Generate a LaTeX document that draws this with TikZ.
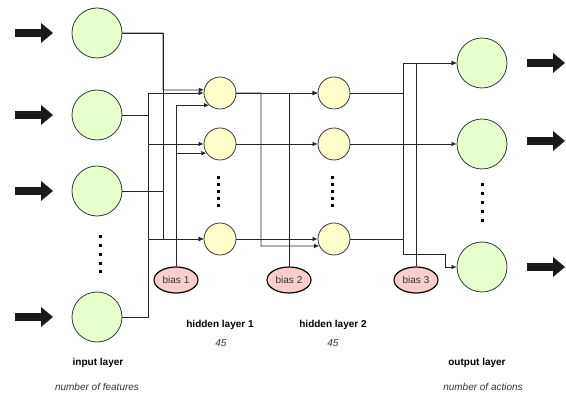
\documentclass[tikz,border=0pt]{standalone}
\usepackage{fontspec}
\setmainfont{Liberation Sans}
\usetikzlibrary{arrows.meta,shapes.geometric}
\definecolor{ingreen}{HTML}{E6FFCC}
\definecolor{hidyel}{HTML}{FFFFCC}
\definecolor{biasred}{HTML}{F8CECC}
\definecolor{stroke}{HTML}{36393D}
\definecolor{bigarr}{HTML}{1A1A1A}
\tikzset{
  bignode/.style={circle,draw=stroke,fill=ingreen,minimum size=50pt,inner sep=0pt,line width=0.8pt},
  hidnode/.style={circle,draw=stroke,fill=hidyel,minimum size=32pt,inner sep=0pt,line width=0.8pt},
  biasnode/.style={ellipse,draw=black,fill=biasred,minimum width=44pt,minimum height=26pt,inner sep=0pt,line width=1.2pt,font=\fontsize{10}{12}\selectfont,text=black!80},
  conn/.style={draw=black!85,line width=0.75pt,-{Latex[length=5pt,width=4.5pt]}},
  plain/.style={draw=black!85,line width=0.75pt},
  lbl/.style={font=\fontsize{10}{12}\selectfont\bfseries,inner sep=0pt},
  sub/.style={font=\fontsize{10}{12}\selectfont\itshape,inner sep=0pt,text=black!80},
  dotsq/.style={fill=black,minimum size=3pt,inner sep=0pt},
}
\newcommand{\bigarrow}[2]{\fill[bigarr] (#1,#2-3.8) -- (#1+26,#2-3.8) -- (#1+26,#2-10) -- (#1+38,#2) -- (#1+26,#2+10) -- (#1+26,#2+3.8) -- (#1,#2+3.8) -- cycle;}
\begin{document}
\begin{tikzpicture}[x=1pt,y=-1pt]
\useasboundingbox (0,0) rectangle (566,395);
% input layer
\node[bignode] (in1) at (97,33) {};
\node[bignode] (in2) at (97,115) {};
\node[bignode] (in3) at (97,191) {};
\node[bignode] (in4) at (97,317) {};
% hidden 1
\node[hidnode] (h1a) at (220,93) {};
\node[hidnode] (h1b) at (220,144) {};
\node[hidnode] (h1c) at (220,239) {};
% hidden 2
\node[hidnode] (h2a) at (334,93) {};
\node[hidnode] (h2b) at (334,144) {};
\node[hidnode] (h2c) at (334,239) {};
% output
\node[bignode] (out1) at (482,63) {};
\node[bignode] (out2) at (482,144) {};
\node[bignode] (out3) at (482,267) {};
% biases
\node[biasnode] (bias1) at (176,280) {bias 1};
\node[biasnode] (bias2) at (289,280) {bias 2};
\node[biasnode] (bias3) at (416,280) {bias 3};
% dots
\foreach \k in {0,...,4} {
  \node[dotsq] (din\k) at (100,237+8.75*\k) {};
  \node[dotsq] (dh1\k) at (218,178+7*\k) {};
  \node[dotsq] (dh2\k) at (332,178+7*\k) {};
  \node[dotsq] (dout\k) at (482,185+9*\k) {};
}
% big arrows
\bigarrow{15}{33}
\bigarrow{15}{115}
\bigarrow{15}{191}
\bigarrow{15}{317}
\bigarrow{527}{63}
\bigarrow{527}{141}
\bigarrow{527}{267}
% input -> hidden 1
\draw[conn] (in1.east) -| (163,90) -- (h1a.169.2);
\draw[conn] (in1.east) -| (163,239) -- (h1c.west);
\draw[plain] (in3.east) -- (163,191);
\draw[conn] (in2.east) -| (148,93) -- (h1a.west);
\draw[conn] (in2.east) -| (148,144) -- (h1b.west);
\draw[conn] (in4.east) -| (148,239) -- (h1c.west);
\draw[plain] (in4.east) -| (148,115);
\draw[conn] (bias1.north) |- (h1a.228.6);
\draw[conn] (bias1.north) |- (h1b.214.2);
% hidden 1 -> hidden 2
\draw[conn] (h1a.east) -- (h2a.west);
\draw[conn] (h1a.east) -| (261,246) -- (h2c.205.9);
\draw[conn] (h1b.east) -- (h2b.west);
\draw[conn] (h1c.east) -- (h2c.west);
\draw[conn] (bias2.north) |- (h2a.west);
% hidden 2 -> output
\draw[conn] (h2a.east) -| (403,63) -- (out1.west);
\draw[conn] (h2b.east) -- (out2.west);
\draw[plain] (h2b.east) -| (403,93);
\draw[conn] (h2c.east) -| (403,254) -| (445,267) -- (out3.west);
\draw[plain] (h2a.east) -| (403,254);
\draw[conn] (bias3.north) |- (out1.west);
% labels
\node[lbl] (lin) at (98,363) {input layer};
\node[sub] (sin) at (97,387) {number of features};
\node[lbl] (lh1) at (220,325) {hidden layer 1};
\node[sub] (sh1) at (221,343) {45};
\node[lbl] (lh2) at (333,325) {hidden layer 2};
\node[sub] (sh2) at (333,343) {45};
\node[lbl] (lout) at (477,363) {output layer};
\node[sub] (sout) at (483,387) {number of actions};
\end{tikzpicture}
\end{document}
